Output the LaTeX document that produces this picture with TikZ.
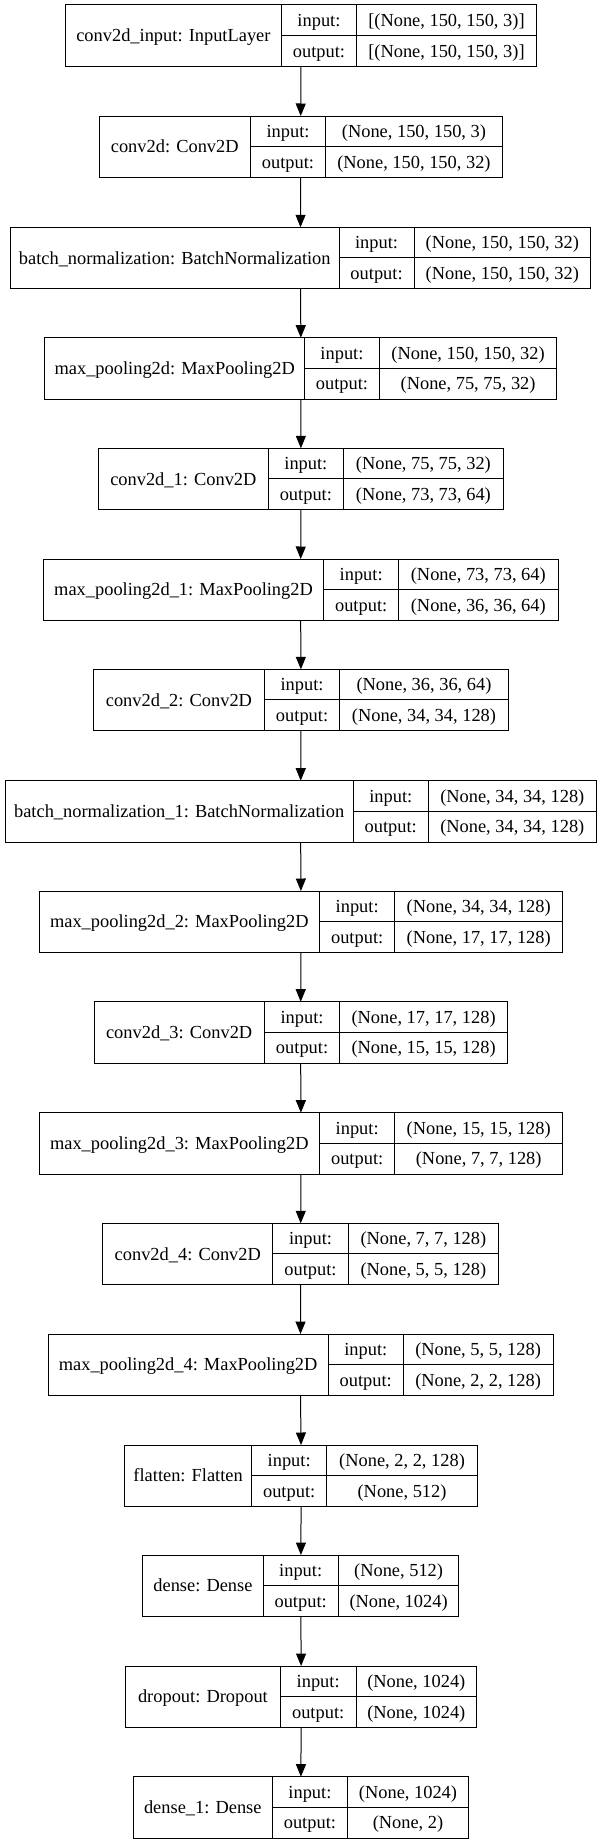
\documentclass[tikz,border=0pt]{standalone}
\usepackage{fontspec}
\setmainfont{Liberation Serif}
\usetikzlibrary{arrows.meta}
\tikzset{
  cellbox/.style={draw=black, line width=1pt, inner sep=0pt, outer sep=0pt,
    font=\fontsize{18.4}{22}\selectfont, text height=13pt, text depth=0.5pt, align=center},
  framebox/.style={draw=none, inner sep=0pt, outer sep=0pt, minimum height=61.3pt},
  arr/.style={draw=black, line width=1pt, -{Triangle[length=12.5pt,width=10pt]}}
}
\newcommand\kerlayer[9]{%
  \pgfmathsetmacro\kwa{#4-#3}%
  \pgfmathsetmacro\kwb{#5-#4}%
  \pgfmathsetmacro\kwc{#6-#5}%
  \pgfmathsetmacro\kwall{#6-#3}%
  \pgfmathsetmacro\kmid{#2+30.65}%
  \node[framebox, minimum width=\kwall pt, anchor=north west] (#1) at (#3,#2) {};
  \node[cellbox, minimum width=\kwa pt, minimum height=61.3pt, anchor=north west] (#1-name) at (#3,#2) {#7};
  \node[cellbox, minimum width=\kwb pt, minimum height=30.65pt, anchor=north west] (#1-inl) at (#4,#2) {input:};
  \node[cellbox, minimum width=\kwb pt, minimum height=30.65pt, anchor=north west] (#1-outl) at (#4,\kmid) {output:};
  \node[cellbox, minimum width=\kwc pt, minimum height=30.65pt, anchor=north west] (#1-ins) at (#5,#2) {#8};
  \node[cellbox, minimum width=\kwc pt, minimum height=30.65pt, anchor=north west] (#1-outs) at (#5,\kmid) {#9};
}
\begin{document}
\begin{tikzpicture}[x=1pt, y=-1pt]
\fill[white] (0,0) rectangle (599,1844);
\path[use as bounding box] (0,0) rectangle (599,1844);
\kerlayer{R1}{5}{65.3}{281.5}{356.4}{536.5}{conv2d\_input: InputLayer}{[(None, 150, 150, 3)]}{[(None, 150, 150, 3)]}
\kerlayer{R2}{116}{99.1}{250.4}{325.6}{502.3}{conv2d: Conv2D}{(None, 150, 150, 3)}{(None, 150, 150, 32)}
\kerlayer{R3}{227.3}{10.4}{339.1}{414}{590.6}{batch\_normalization: BatchNormalization}{(None, 150, 150, 32)}{(None, 150, 150, 32)}
\kerlayer{R4}{337.7}{44.9}{304.5}{379.4}{556.8}{max\_pooling2d: MaxPooling2D}{(None, 150, 150, 32)}{(None, 75, 75, 32)}
\kerlayer{R5}{448.3}{98.7}{268}{343.7}{503.1}{conv2d\_1: Conv2D}{(None, 75, 75, 32)}{(None, 73, 73, 64)}
\kerlayer{R6}{559}{43.4}{323.7}{398.6}{558}{max\_pooling2d\_1: MaxPooling2D}{(None, 73, 73, 64)}{(None, 36, 36, 64)}
\kerlayer{R7}{669.3}{93.7}{264.2}{339.9}{508.1}{conv2d\_2: Conv2D}{(None, 36, 36, 64)}{(None, 34, 34, 128)}
\kerlayer{R8}{780.7}{5}{353.3}{428.2}{596.4}{batch\_normalization\_1: BatchNormalization}{(None, 34, 34, 128)}{(None, 34, 34, 128)}
\kerlayer{R9}{891}{39.2}{319.5}{394.8}{562.6}{max\_pooling2d\_2: MaxPooling2D}{(None, 34, 34, 128)}{(None, 17, 17, 128)}
\kerlayer{R10}{1001.7}{94.1}{264.2}{339.9}{507.3}{conv2d\_3: Conv2D}{(None, 17, 17, 128)}{(None, 15, 15, 128)}
\kerlayer{R11}{1112.7}{39.2}{319.5}{394.8}{562.6}{max\_pooling2d\_3: MaxPooling2D}{(None, 15, 15, 128)}{(None, 7, 7, 128)}
\kerlayer{R12}{1223.3}{102.9}{272.7}{348.3}{498.5}{conv2d\_4: Conv2D}{(None, 7, 7, 128)}{(None, 5, 5, 128)}
\kerlayer{R13}{1334}{48}{328.3}{403.2}{553}{max\_pooling2d\_4: MaxPooling2D}{(None, 5, 5, 128)}{(None, 2, 2, 128)}
\kerlayer{R14}{1445}{124.8}{251.5}{326.8}{477.3}{flatten: Flatten}{(None, 2, 2, 128)}{(None, 512)}
\kerlayer{R15}{1555}{142.9}{263}{338.3}{458.9}{dense: Dense}{(None, 512)}{(None, 1024)}
\kerlayer{R16}{1666}{125.6}{280.3}{356}{476.6}{dropout: Dropout}{(None, 1024)}{(None, 1024)}
\kerlayer{R17}{1776.7}{133.3}{272.3}{347.5}{468.5}{dense\_1: Dense}{(None, 1024)}{(None, 2)}
\foreach \a/\b in {1/2,2/3,3/4,4/5,5/6,6/7,7/8,8/9,9/10,10/11,11/12,12/13,13/14,14/15,15/16,16/17}
  \draw[arr] (R\a.south) -- (R\b.north);
\end{tikzpicture}
\end{document}
